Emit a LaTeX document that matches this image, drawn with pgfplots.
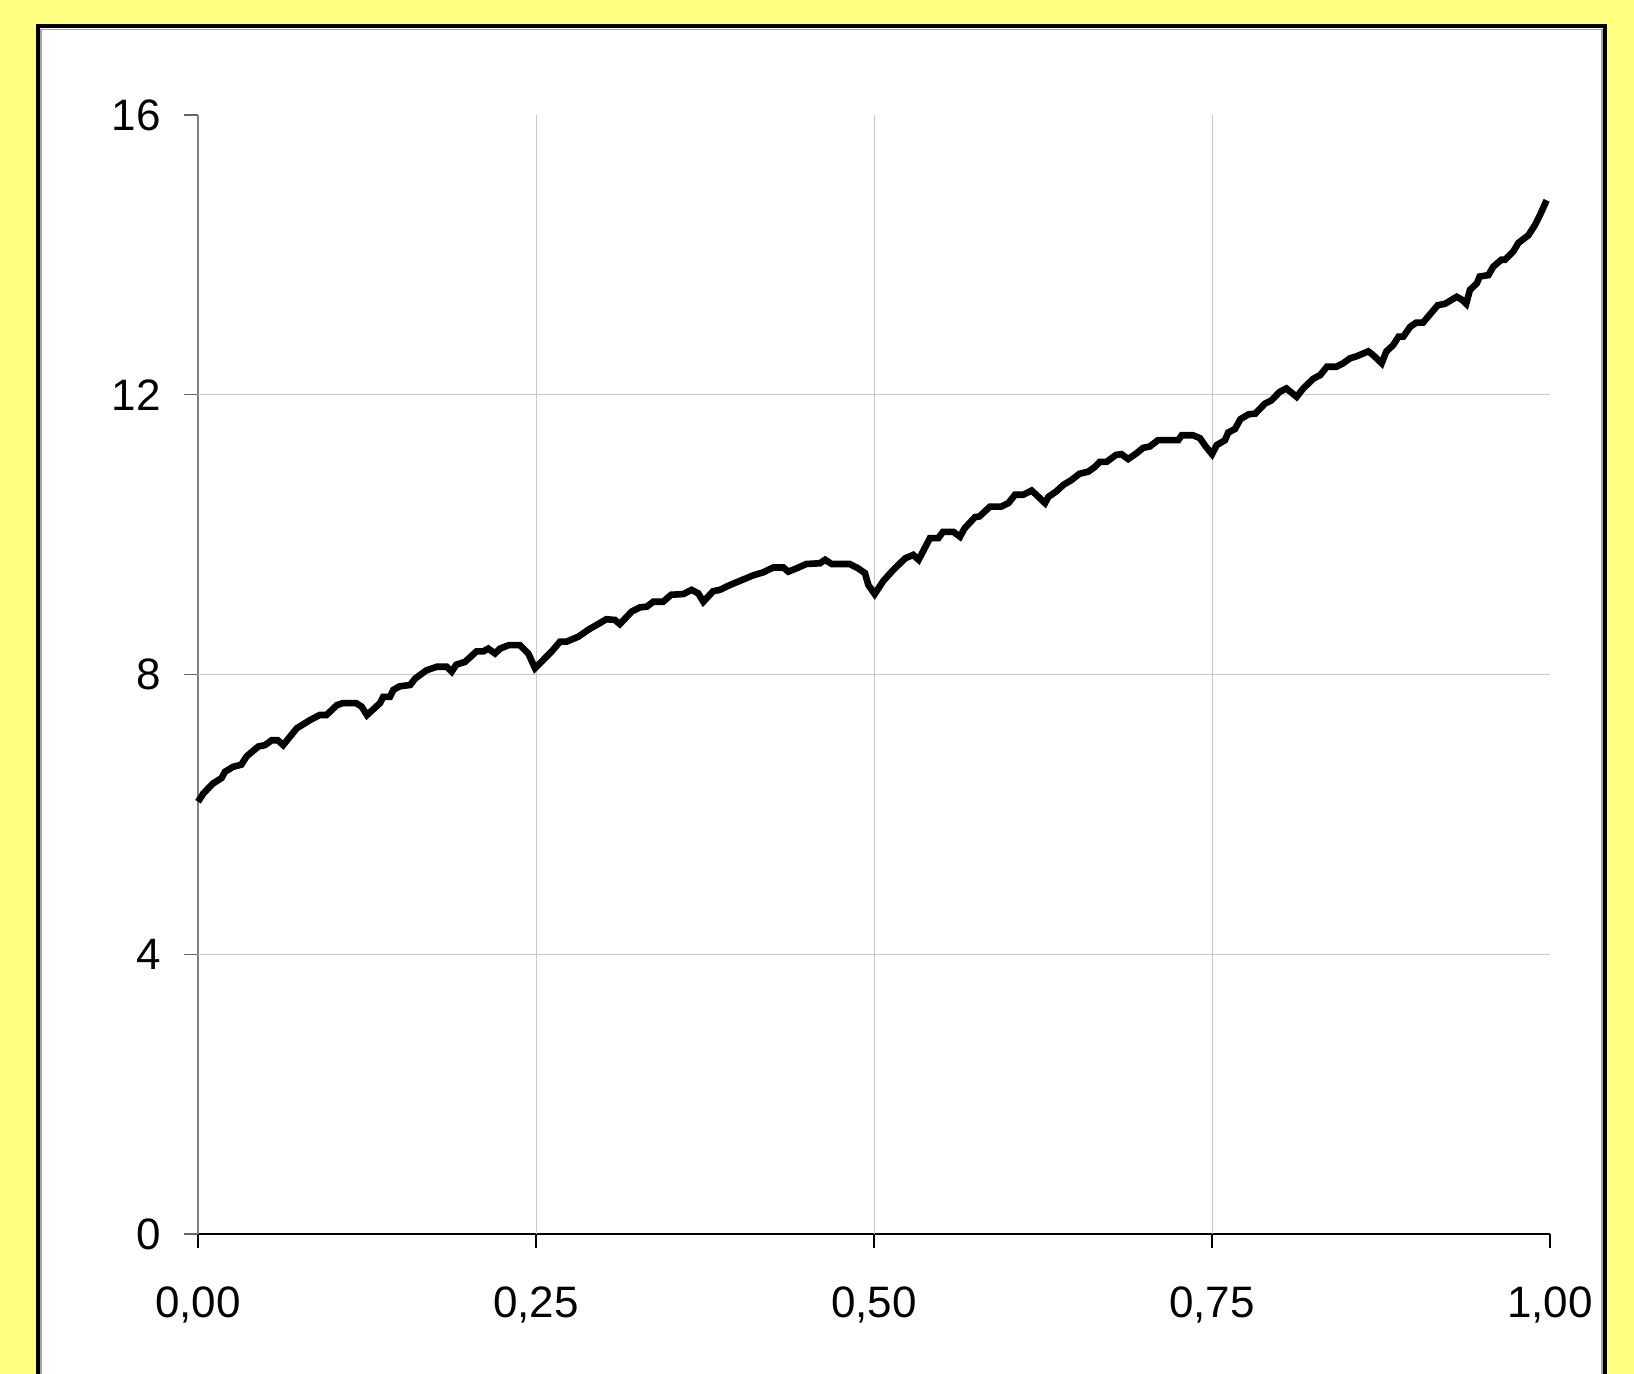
\documentclass[border=0pt]{standalone}
\usepackage{fontspec}
\setmainfont{Liberation Sans}
\usepackage{pgfplots}
\pgfplotsset{compat=1.18}
\definecolor{bgyellow}{RGB}{255,255,128}
\definecolor{gridgray}{RGB}{200,200,200}
\begin{document}
\begin{tikzpicture}
\useasboundingbox (-99pt,-70pt) rectangle (718pt,617pt);
\fill[bgyellow] (-99pt,-70pt) rectangle (718pt,617pt);
\fill[white] (-80pt,-70pt) rectangle (703.5pt,603.75pt);
\draw[line width=2pt] (-80pt,-70pt) -- (-80pt,603.75pt) -- (703.5pt,603.75pt) -- (703.5pt,-70pt);
\draw[gray!70, line width=0.6pt] (-78.5pt,-70pt) -- (-78.5pt,602.3pt) -- (702pt,602.3pt) -- (702pt,-70pt);
\begin{axis}[
  at={(0,0)}, anchor=south west,
  scale only axis, width=676pt, height=559.5pt,
  xmin=0, xmax=1, ymin=0, ymax=16,
  axis x line*=bottom, axis y line*=left,
  x axis line style={black, line width=0.6pt, -},
  y axis line style={gray, line width=0.9pt, -},
  xtick={0,0.25,0.5,0.75,1},
  xticklabels={{0,00},{0,25},{0,50},{0,75},{1,00}},
  ytick={0,4,8,12,16},
  yticklabels={0,4,8,12,16},
  tick align=outside,
  major tick length=7pt,
  xtick style={black, line width=0.6pt},
  ytick style={gray!80!black, line width=0.7pt},
  ticklabel style={font=\fontsize{22}{26}\selectfont, inner sep=0pt},
  xticklabel style={anchor=north, yshift=-19pt},
  yticklabel style={anchor=east, xshift=-11.5pt},
  clip=false,
]
\draw[gridgray, line width=0.5pt] (axis cs:0.25,0) -- (axis cs:0.25,16);
\draw[gridgray, line width=0.5pt] (axis cs:0.5,0) -- (axis cs:0.5,16);
\draw[gridgray, line width=0.5pt] (axis cs:0.75,0) -- (axis cs:0.75,16);
\draw[gridgray, line width=0.5pt] (axis cs:0,4) -- (axis cs:1,4);
\draw[gridgray, line width=0.5pt] (axis cs:0,8) -- (axis cs:1,8);
\draw[gridgray, line width=0.5pt] (axis cs:0,12) -- (axis cs:1,12);
\addplot[black, line width=3.3pt, line join=miter, mark=none] coordinates {
(0,6.18) (0.004,6.30) (0.011,6.44) (0.0175,6.52) (0.020,6.61) (0.026,6.68)
(0.032,6.71) (0.036,6.83) (0.0446,6.97) (0.0496,6.99) (0.0545,7.06) (0.059,7.06)
(0.063,6.99) (0.073,7.23) (0.083,7.35) (0.090,7.42) (0.095,7.42) (0.1026,7.56)
(0.107,7.59) (0.117,7.59) (0.121,7.54) (0.125,7.42) (0.1346,7.59) (0.137,7.68)
(0.142,7.68) (0.1445,7.78) (0.149,7.83) (0.157,7.85) (0.1605,7.94) (0.169,8.06)
(0.1766,8.11) (0.184,8.11) (0.1876,8.04) (0.191,8.14) (0.1975,8.18) (0.206,8.33)
(0.211,8.33) (0.2147,8.37) (0.2197,8.30) (0.2234,8.37) (0.230,8.42) (0.238,8.42)
(0.2443,8.30) (0.2493,8.09) (0.2616,8.33) (0.2678,8.47) (0.2727,8.47) (0.2813,8.54)
(0.2887,8.64) (0.295,8.71) (0.302,8.79) (0.3084,8.78) (0.312,8.72) (0.3208,8.90)
(0.327,8.96) (0.332,8.97) (0.3367,9.04) (0.344,9.04) (0.350,9.14) (0.359,9.15)
(0.365,9.21) (0.370,9.16) (0.3738,9.04) (0.381,9.19) (0.386,9.21) (0.3935,9.28)
(0.401,9.34) (0.406,9.38) (0.411,9.42) (0.418,9.46) (0.4255,9.53) (0.433,9.53)
(0.4366,9.47) (0.443,9.52) (0.450,9.58) (0.460,9.59) (0.4638,9.64) (0.4687,9.58)
(0.482,9.58) (0.488,9.52) (0.4933,9.45) (0.4958,9.28) (0.5005,9.15) (0.507,9.34)
(0.514,9.49) (0.523,9.66) (0.529,9.71) (0.533,9.64) (0.5414,9.95) (0.5476,9.95)
(0.551,10.04) (0.5587,10.04) (0.5636,9.97) (0.567,10.09) (0.5747,10.25) (0.578,10.26)
(0.5858,10.40) (0.594,10.40) (0.5994,10.45) (0.6043,10.57) (0.6104,10.57) (0.6166,10.63)
(0.620,10.57) (0.6265,10.45) (0.629,10.54) (0.635,10.62) (0.640,10.71) (0.646,10.78)
(0.652,10.87) (0.6585,10.90) (0.6635,10.97) (0.667,11.04) (0.672,11.04) (0.679,11.14)
(0.683,11.15) (0.688,11.08) (0.694,11.16) (0.699,11.24) (0.704,11.26) (0.710,11.35)
(0.725,11.35) (0.7276,11.42) (0.736,11.42) (0.741,11.38) (0.745,11.27) (0.750,11.15)
(0.7535,11.28) (0.7596,11.35) (0.762,11.46) (0.767,11.51) (0.771,11.65) (0.777,11.72)
(0.782,11.73) (0.789,11.87) (0.794,11.92) (0.800,12.04) (0.805,12.09) (0.8126,11.97)
(0.8175,12.09) (0.825,12.23) (0.830,12.28) (0.835,12.40) (0.842,12.40) (0.847,12.45)
(0.852,12.52) (0.857,12.55) (0.8656,12.62) (0.869,12.57) (0.8755,12.45) (0.879,12.62)
(0.884,12.71) (0.888,12.83) (0.8915,12.83) (0.8965,12.97) (0.901,13.03) (0.906,13.03)
(0.917,13.28) (0.9223,13.30) (0.931,13.40) (0.9347,13.36) (0.938,13.30) (0.9408,13.50)
(0.9458,13.59) (0.948,13.69) (0.9544,13.71) (0.958,13.83) (0.964,13.93) (0.9667,13.93)
(0.9729,14.05) (0.9766,14.17) (0.984,14.28) (0.989,14.43) (0.9926,14.57) (0.9975,14.78)
};
\end{axis}
\end{tikzpicture}
\end{document}
